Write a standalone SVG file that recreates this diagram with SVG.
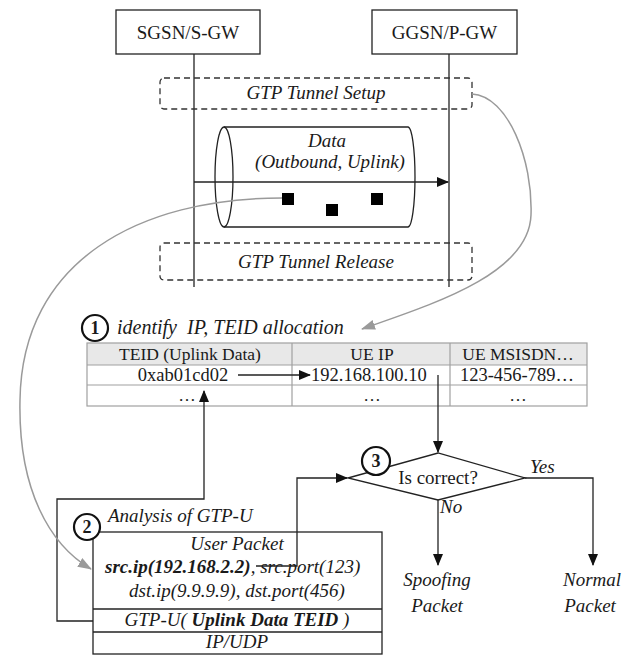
<svg xmlns="http://www.w3.org/2000/svg" width="626" height="655" viewBox="0 0 626 655" font-family="'Liberation Serif', 'Times New Roman', serif">
<style>
text{font-family:'Liberation Serif','Times New Roman',serif;fill:#1a1a1a}
.t19{font-size:19px}
.t17{font-size:17.5px}
.t18{font-size:18.5px}
.it{font-style:italic}
.b{font-weight:bold}
.mid{text-anchor:middle}
.ln{fill:none;stroke:#222;stroke-width:1.3}
.box{fill:#fff;stroke:#222;stroke-width:1.3}
.dash{fill:none;stroke:#333;stroke-width:1.3;stroke-dasharray:6,4}
.gray{fill:none;stroke:#9a9a9a;stroke-width:1.5}
.cell{fill:none;stroke:#a0a0a0;stroke-width:1.2}
.circ{fill:#fff;stroke:#111;stroke-width:2.2}
.sq{fill:#000}
</style>
<defs>
<marker id="ab" markerUnits="userSpaceOnUse" markerWidth="12" markerHeight="10" refX="11" refY="5" orient="auto"><path d="M0,0 L12,5 L0,10 z" fill="#111"/></marker>
<marker id="ag" markerUnits="userSpaceOnUse" markerWidth="14" markerHeight="10" refX="13" refY="5" orient="auto"><path d="M0,0 L14,5 L0,10 z" fill="#9a9a9a"/></marker>
</defs>

<g id="sgsn">
<rect class="box" x="116" y="10" width="144" height="44"/>
<text class="t19 mid" x="188" y="39">SGSN/S-GW</text>
</g>
<g id="ggsn">
<rect class="box" x="372" y="10" width="145" height="44"/>
<text class="t19 mid" x="444.5" y="39">GGSN/P-GW</text>
</g>

<g id="lifelines">
<line class="ln" x1="194" y1="54" x2="194" y2="287"/>
<line class="ln" x1="449" y1="54" x2="449" y2="287"/>
</g>

<g id="tunnel-setup">
<rect class="dash" x="160" y="78" width="312" height="31" rx="4"/>
<text class="t19 it mid" x="316" y="99">GTP Tunnel Setup</text>
</g>

<g id="tunnel">
<path class="ln" d="M224,127 L408,127 A7,50 0 0 1 408,227 L224,227"/>
<ellipse class="ln" cx="224" cy="177" rx="9" ry="50"/>
<text class="t19 it mid" x="327" y="147">Data</text>
<text class="t19 it mid" x="330" y="168">(Outbound, Uplink)</text>
<rect class="sq" x="282" y="193" width="12" height="12"/>
<rect class="sq" x="326" y="204" width="12" height="12"/>
<rect class="sq" x="371" y="193" width="12" height="12"/>
</g>

<g id="tunnel-release">
<rect class="dash" x="160" y="243" width="312" height="37" rx="4"/>
<text class="t19 it mid" x="316" y="268">GTP Tunnel Release</text>
</g>

<g id="step1">
<circle class="circ" cx="95" cy="328" r="13"/>
<text class="b mid" style="font-size:18px" x="95" y="334">1</text>
<text class="it" style="font-size:20px" x="117" y="334" xml:space="preserve">identify  IP, TEID allocation</text>
</g>

<g id="table">
<rect x="87" y="343" width="500" height="22" fill="#e8e8e8"/>
<rect class="cell" x="87" y="343" width="500" height="63"/>
<line class="cell" x1="87" y1="365" x2="587" y2="365"/>
<line class="cell" x1="87" y1="385" x2="587" y2="385"/>
<line class="cell" x1="292" y1="343" x2="292" y2="406"/>
<line class="cell" x1="450" y1="343" x2="450" y2="406"/>
<text class="t17 mid" x="190" y="360">TEID (Uplink Data)</text>
<text class="t17 mid" x="372" y="360">UE IP</text>
<text class="t17 mid" x="518" y="360">UE MSISDN…</text>
<text class="t18 mid" x="183" y="381">0xab01cd02</text>
<text class="t18" x="311" y="381">192.168.100.10</text>
<text class="t18 mid" x="517" y="381">123-456-789…</text>
<text class="t17 mid" x="187" y="401">…</text>
<text class="t17 mid" x="372" y="401">…</text>
<text class="t17 mid" x="518" y="401">…</text>
</g>

<g id="step2">
<rect class="box" x="93" y="532" width="289" height="122"/>
<line class="ln" x1="93" y1="609" x2="382" y2="609"/>
<line class="ln" x1="93" y1="632" x2="382" y2="632"/>
<circle class="circ" cx="87" cy="527" r="13"/>
<text class="b mid" style="font-size:18px" x="87" y="533">2</text>
<text class="t19 it" x="108" y="522">Analysis of GTP-U</text>
<text class="t19 it mid" x="237" y="550">User Packet</text>
<text class="t19 it" x="105" y="573"><tspan class="b">src.ip(192.168.2.2)</tspan>, src.port(123)</text>
<text class="t19 it mid" x="237" y="597">dst.ip(9.9.9.9), dst.port(456)</text>
<text class="t19 it mid" x="237" y="626">GTP-U( <tspan class="b">Uplink Data TEID</tspan> )</text>
<text class="t19 it mid" x="237" y="648">IP/UDP</text>
</g>

<g id="decision">
<path class="box" d="M348,478 L438,453 L525,478 L438,500 z"/>
<text class="t19 mid" x="438" y="484">Is correct?</text>
<circle class="circ" cx="376" cy="461" r="14"/>
<text class="b mid" style="font-size:18px" x="376" y="467">3</text>
</g>

<g id="results">
<text class="t19 it mid" x="437" y="586">Spoofing</text>
<text class="t19 it mid" x="437" y="612">Packet</text>
<text class="t19 it mid" x="592" y="586">Normal</text>
<text class="t19 it mid" x="590" y="612">Packet</text>
</g>

<g id="connectors">
<line class="ln" x1="194" y1="182" x2="448" y2="182" marker-end="url(#ab)"/>
<line class="ln" x1="238" y1="375" x2="310" y2="375" marker-end="url(#ab)"/>
<polyline class="ln" points="93,621 57,621 57,499 204,499 204,391" marker-end="url(#ab)"/>
<line class="ln" x1="438" y1="375" x2="438" y2="452" marker-end="url(#ab)"/>
<polyline class="ln" points="256,566 297,566 297,478 347,478" marker-end="url(#ab)"/>
<line class="ln" x1="438" y1="500" x2="438" y2="565" marker-end="url(#ab)"/>
<polyline class="ln" points="525,478 593,478 593,565" marker-end="url(#ab)"/>
<path class="gray" d="M472,94 C508,96 533,160 531,215 C529,275 430,305 362,329" marker-end="url(#ag)"/>
<path class="gray" d="M282,198 C140,198 22,260 20,400 C18,490 50,545 91,569" marker-end="url(#ag)"/>
<text class="t19 it" x="530" y="473">Yes</text>
<text class="t19 it" x="440" y="513">No</text>
</g>
</svg>
